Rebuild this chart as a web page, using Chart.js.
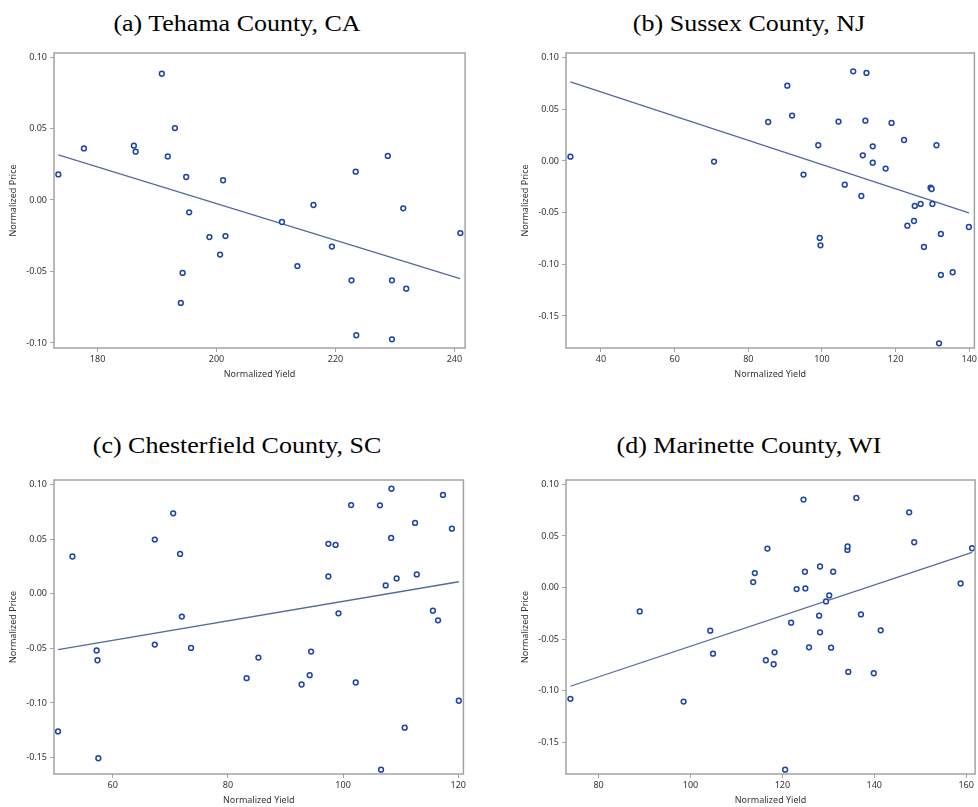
<!DOCTYPE html>
<html>
<head>
<meta charset="utf-8">
<script src="https://cdn.jsdelivr.net/npm/chart.js@4.4.1/dist/chart.umd.min.js"></script>
<style>
  html, body { margin: 0; padding: 0; background: #fff; overflow: hidden; }
  body { width: 978px; height: 807px; position: relative; }
  .panel { position: absolute; }
  .title {
    position: absolute;
    font-family: "Liberation Serif", "Times New Roman", serif;
    font-size: 23px;
    line-height: 23px;
    color: #000;
    white-space: nowrap;
    transform: translateX(-50%) scaleX(1.13);
  }
</style>
</head>
<body>

<div class="title" style="left:236.5px; top:11.5px">(a) Tehama County, CA</div>
<div class="title" style="left:749px; top:11.5px">(b) Sussex County, NJ</div>
<div class="title" style="left:236.5px; top:433.5px">(c) Chesterfield County, SC</div>
<div class="title" style="left:749px; top:433.5px">(d) Marinette County, WI</div>

<canvas id="chartA" class="panel"></canvas>
<canvas id="chartB" class="panel"></canvas>
<canvas id="chartC" class="panel"></canvas>
<canvas id="chartD" class="panel"></canvas>

<script>
// Tehama County, CA
const tehamaYield = [173.4, 177.7, 186.1, 186.4, 190.8, 193.0, 191.8, 194.9, 195.4, 198.8, 201.5, 201.1, 200.6, 194.3,
                     194.0, 211.0, 216.3, 213.6, 219.4, 223.4, 228.8, 231.4, 222.7, 229.5, 231.9, 223.5, 229.5, 241.0]
const tehamaPrice = [0.0179, 0.0361, 0.038, 0.0338, 0.0883, 0.0503, 0.0305, 0.0161, -0.0086, -0.0259, -0.0252, 0.0138, -0.0382, -0.051,
                     -0.072, -0.0154, -0.0035, -0.0462, -0.0326, 0.0198, 0.0308, -0.0058, -0.0562, -0.0562, -0.062, -0.0946, -0.0974, -0.0231]
const tehamaFitYield = [173.4, 240.95]
const tehamaFitPrice = [0.0315, -0.055]

// Sussex County, NJ
const sussexYield = [31.7, 70.7, 85.4, 90.6, 91.9, 95.0, 99.0, 99.4, 99.6, 104.5, 106.2, 108.5, 112.1, 111.8, 111.1, 110.7, 113.8, 113.8,
                     117.3, 118.9, 122.3, 123.2, 125.0, 125.2, 126.8, 127.7, 129.5, 129.8, 130.0, 131.1, 132.3, 132.3, 135.5, 131.8, 139.9]
const sussexPrice = [0.0042, -0.0006, 0.0377, 0.0729, 0.0439, -0.0132, 0.0152, -0.0745, -0.0816, 0.0381, -0.0229, 0.0868, 0.0852, 0.039, 0.0055, -0.0339, 0.0142, -0.0016,
                     -0.0074, 0.0368, 0.0203, -0.0626, -0.0581, -0.0435, -0.0416, -0.0832, -0.0258, -0.0271, -0.0416, 0.0152, -0.0706, -0.1103, -0.1077, -0.1765, -0.0639]
const sussexFitYield = [31.7, 139.9]
const sussexFitPrice = [0.0765, -0.0503]

// Chesterfield County, SC
const chesterfieldYield = [50.5, 53.0, 57.2, 57.35, 57.5, 67.3, 67.3, 70.5, 71.7, 72.0, 73.6, 83.25, 85.3, 92.8, 94.2, 94.45, 97.45, 98.7,
                           97.45, 99.2, 102.2, 101.4, 106.4, 108.4, 108.35, 107.4, 109.3, 106.6, 110.7, 112.5, 112.8, 115.6, 116.5, 117.35, 118.9, 120.1]
const chesterfieldPrice = [-0.126, 0.034, -0.052, -0.0609, -0.1506, 0.0495, -0.0466, 0.0735, 0.0364, -0.021, -0.0496, -0.0773, -0.0585, -0.0831, -0.0746, -0.053, 0.0456, 0.0446,
                           0.0158, -0.018, -0.0813, 0.0811, 0.0808, 0.096, 0.051, 0.0075, 0.0139, -0.161, -0.1226, 0.0647, 0.0176, -0.0156, -0.0244, 0.0903, 0.0595, -0.098]
const chesterfieldFitYield = [50.5, 120.1]
const chesterfieldFitPrice = [-0.0512, 0.0109]

// Marinette County, WI
const marinetteYield = [73.86, 88.95, 98.5, 104.3, 104.9, 113.65, 114.0, 116.75, 116.4, 118.3, 118.1, 120.6, 121.9, 123.1, 124.6, 124.9, 125.0, 125.8,
                        128.0, 128.2, 128.2, 129.5, 130.2, 131.05, 130.6, 134.15, 134.2, 134.35, 136.1, 137.1, 139.9, 141.4, 147.6, 148.7, 158.8, 161.3]
const marinettePrice = [-0.1078, -0.0231, -0.1104, -0.0418, -0.064, 0.0053, 0.014, 0.0378, -0.0704, -0.0627, -0.0743, -0.1764, -0.034, -0.0015, 0.0852, 0.0153, -0.0008, -0.0579,
                        -0.0272, 0.0204, -0.0434, -0.0134, -0.0076, 0.0153, -0.0582, 0.0365, 0.0398, -0.0817, 0.0868, -0.026, -0.083, -0.0414, 0.0729, 0.0439, 0.004, 0.0381]
const marinetteFitYield = [73.86, 161.3]
const marinetteFitPrice = [-0.0956, 0.034]

// tick labels
const xTicksA = [180, 200, 220, 240]
const xTicksB = [40, 60, 80, 100, 120, 140]
const xTicksC = [60, 80, 100, 120]
const xTicksD = [80, 100, 120, 140, 160]
const yTicksTop = [-0.10, -0.05, 0.00, 0.05, 0.10]
const yTicksLow = [-0.15, -0.10, -0.05, 0.00, 0.05, 0.10]

const markerColor = '#1f42a8'
const lineColor = '#4f6c9c'
const frameColor = '#a3a3a3'
const tickFont = { family: '"Noto Sans", "Liberation Sans", sans-serif', size: 9 }

// box around the plot area
const framePlugin = {
  id: 'frame',
  afterDatasetsDraw(chart) {
    const a = chart.chartArea
    const ctx = chart.ctx
    ctx.save()
    ctx.strokeStyle = frameColor
    ctx.lineWidth = 1.5
    ctx.strokeRect(a.left, a.top, a.right - a.left, a.bottom - a.top)
    ctx.restore()
  }
}

const toPoints = (xs, ys) => xs.map((x, i) => ({ x: x, y: ys[i] }))

// plot box in page pixels: left, top, right, bottom
function makePanel(id, box, data, ranges, xTicks, yTicks) {
  const canvas = document.getElementById(id)
  const yAxisW = 54, padTop = 10, xAxisH = 34, padBottom = 2, padRight = 3
  const w = box[2] - box[0] + yAxisW + padRight
  const h = box[3] - box[1] + padTop + xAxisH + padBottom
  canvas.style.left = (box[0] - yAxisW) + 'px'
  canvas.style.top = (box[1] - padTop) + 'px'
  canvas.style.width = w + 'px'
  canvas.style.height = h + 'px'
  canvas.width = w
  canvas.height = h

  new Chart(canvas, {
    type: 'scatter',
    data: {
      datasets: [
        {
          data: toPoints(data.xs, data.ys),
          pointStyle: 'circle',
          pointRadius: 2.4,
          pointBorderWidth: 1.5,
          pointBorderColor: markerColor,
          pointBackgroundColor: '#ffffff',
          pointHoverRadius: 2.4,
          clip: false,
          order: 1
        },
        {
          data: toPoints(data.fitX, data.fitY),
          showLine: true,
          borderColor: lineColor,
          borderWidth: 1.3,
          pointRadius: 0,
          fill: false,
          order: 2
        }
      ]
    },
    options: {
      responsive: false,
      animation: false,
      events: [],
      layout: { padding: { top: padTop, right: padRight, bottom: padBottom, left: 0 } },
      plugins: { legend: { display: false }, tooltip: { enabled: false } },
      scales: {
        x: {
          type: 'linear',
          min: ranges[0],
          max: ranges[1],
          afterBuildTicks: s => { s.ticks = xTicks.map(v => ({ value: v })) },
          afterFit: s => { s.height = xAxisH },
          grid: { drawOnChartArea: false, tickLength: 4, color: frameColor, lineWidth: 1 },
          border: { display: false },
          ticks: { font: tickFont, color: '#333', padding: 2, maxRotation: 0, callback: v => String(v) },
          title: { display: true, text: 'Normalized Yield', font: tickFont, color: '#333', padding: { top: 2, bottom: 2 } }
        },
        y: {
          type: 'linear',
          min: ranges[2],
          max: ranges[3],
          afterBuildTicks: s => { s.ticks = yTicks.map(v => ({ value: v })) },
          afterFit: s => { s.width = yAxisW },
          grid: { drawOnChartArea: false, tickLength: 4, color: frameColor, lineWidth: 1 },
          border: { display: false },
          ticks: { font: tickFont, color: '#333', padding: 3, callback: v => v.toFixed(2) },
          title: { display: true, text: 'Normalized Price', font: tickFont, color: '#333', padding: { top: 8, bottom: 0 } }
        }
      }
    },
    plugins: [framePlugin]
  })
}

makePanel('chartA', [54, 53.3, 466, 348.3],
  { xs: tehamaYield, ys: tehamaPrice, fitX: tehamaFitYield, fitY: tehamaFitPrice },
  [172.67, 241.8, -0.1035, 0.1028], xTicksA, yTicksTop)

makePanel('chartB', [565.7, 53.3, 976, 348.3],
  { xs: sussexYield, ys: sussexPrice, fitX: sussexFitYield, fitY: sussexFitPrice },
  [30.5, 141.4, -0.181, 0.1045], xTicksB, yTicksLow)

makePanel('chartC', [54, 479.7, 465, 774.3],
  { xs: chesterfieldYield, ys: chesterfieldPrice, fitX: chesterfieldFitYield, fitY: chesterfieldFitPrice },
  [49.8, 120.9, -0.165, 0.104], xTicksC, yTicksLow)

makePanel('chartD', [565.7, 479.7, 976.5, 774.3],
  { xs: marinetteYield, ys: marinettePrice, fitX: marinetteFitYield, fitY: marinetteFitPrice },
  [72.9, 161.95, -0.1806, 0.1042], xTicksD, yTicksLow)
</script>
</body>
</html>
